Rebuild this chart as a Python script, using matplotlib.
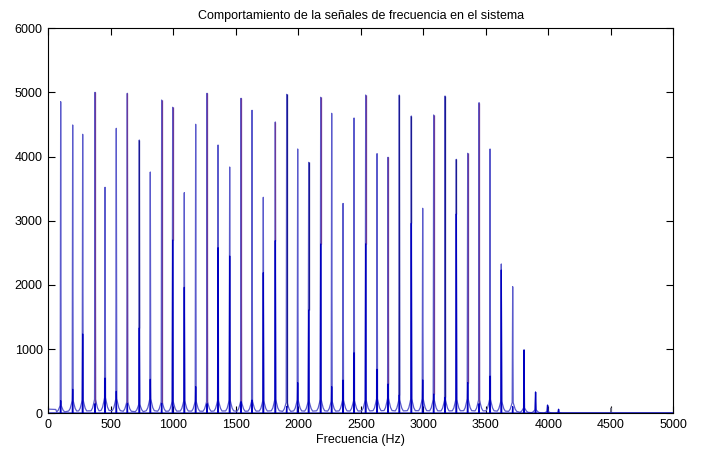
import numpy as np
import matplotlib
matplotlib.use("Agg")
import matplotlib.pyplot as plt

plt.rcParams['font.family'] = ['Liberation Sans', 'DejaVu Sans']

# ---- data -------------------------------------------------------------
frecuencias = [99, 195, 275, 374, 454, 544, 632, 728, 816, 907, 995, 1088,
               1179, 1270, 1358, 1451, 1542, 1630, 1720, 1816, 1907, 1995,
               2083, 2179, 2267, 2358, 2446, 2539, 2630, 2718, 2808, 2904,
               2995, 3083, 3174, 3264, 3355, 3446, 3534, 3624, 3715, 3806,
               3898, 3994, 4082]
pico_principal = [4856, 4493, 4348, 5002, 3522, 4441, 4987, 4259, 3760, 4882,
                  4769, 3438, 4504, 4987, 4181, 3838, 4909, 4722, 3366, 4540,
                  4971, 4119, 3911, 4925, 4675, 3270, 4602, 4960, 4046, 3990,
                  4960, 4633, 3195, 4649, 4945, 3958, 4052, 4840, 4119, 2327,
                  1973, 988, 327, 129, 62]
pico_secundario = [197, 374, 1236, 150, 550, 343, 150, 1330, 530, 156,
                   2700, 1963, 415, 150, 2581, 2451, 181, 207, 2191, 2690,
                   103, 477, 1610, 2638, 415, 519, 944, 2640, 686, 457,
                   285, 2961, 520, 300, 249, 3106, 477, 150, 581, 2233,
                   103, 986, 332, 125, 62]
joroba = [130, 210, 220, 230, 260, 240, 190, 150, 240, 190, 200, 210,
          200, 190, 210, 220, 190, 200, 210, 230, 180, 220, 200, 230,
          200, 220, 210, 220, 240, 250, 220, 240, 240, 230, 220, 230,
          240, 220, 230, 200, 180, 90, 60, 30, 15]
base_inicio = 65
frec_gris = [4502]
pico_gris = [83]
# peaks whose tall line shows purple / navy in the reference
picos_morados = [3, 6, 9, 10, 13, 16, 19, 23, 27, 29, 33, 36, 37]
picos_marinos = [7, 20, 22, 30, 31, 34, 35]

titulo = "Comportamiento de la señales de frecuencia en el sistema"
etiqueta_x = "Frecuencia (Hz)"
ticks_x = list(range(0, 5001, 500))
ticks_y = list(range(0, 6001, 1000))

# ---- build the line traces from the peak tables ------------------------
forma_d = [32, 20, 10, 4]
forma_k = [0.17, 0.36, 0.7, 0.94]

xs_a, ys_a = [0, 60], [base_inicio, base_inicio - 5]
for f, h, b in zip(frecuencias, pico_principal, joroba):
    for d, k in zip(forma_d, forma_k):
        xs_a.append(f - d); ys_a.append(b * k)
    xs_a.append(f); ys_a.append(h)
    for d, k in zip(forma_d[::-1], forma_k[::-1]):
        xs_a.append(f + d); ys_a.append(b * k)
xs_a += [frecuencias[-1] + 60, 5000]
ys_a += [3, 3]

xs_b, ys_b = [0], [4]
for f, h in zip(frecuencias, pico_secundario):
    xs_b += [f - 3, f, f + 3]
    ys_b += [4, h, 4]
xs_b.append(5000); ys_b.append(4)

xs_c, ys_c = [4000], [2]
for f, h in zip(frec_gris, pico_gris):
    xs_c += [f - 2, f, f + 2]
    ys_c += [2, h, 2]
xs_c.append(5000); ys_c.append(2)

# ---- figure --------------------------------------------------------------
fig = plt.figure(figsize=(7.01, 4.49), dpi=100)
ax = fig.add_axes([0.0689, 0.0795, 0.8916, 0.8575])

ax.plot(xs_c, ys_c, color='#707080', lw=0.9)
ax.plot(xs_a, ys_a, color='#5a5acc', lw=0.9)
ax.vlines([frecuencias[i] for i in picos_morados],
          [pico_secundario[i] for i in picos_morados],
          [pico_principal[i] for i in picos_morados],
          color='#6a3a9a', lw=0.9)
ax.vlines([frecuencias[i] for i in picos_marinos],
          [pico_secundario[i] for i in picos_marinos],
          [pico_principal[i] for i in picos_marinos],
          color='#1a1a90', lw=0.9)
ax.plot(xs_b, ys_b, color='#0000c0', lw=0.9)

ax.set_xlim(0, 5000)
ax.set_ylim(0, 6000)
ax.set_xticks(ticks_x)
ax.set_yticks(ticks_y)
ax.tick_params(direction='in', top=True, right=True, length=5, width=0.8,
               labelsize=9, pad=4)
for s in ax.spines.values():
    s.set_linewidth(0.8)
ax.set_title(titulo, fontsize=9, pad=7)
ax.set_xlabel(etiqueta_x, fontsize=9, labelpad=2)

fig.savefig("out.png", dpi=100)
